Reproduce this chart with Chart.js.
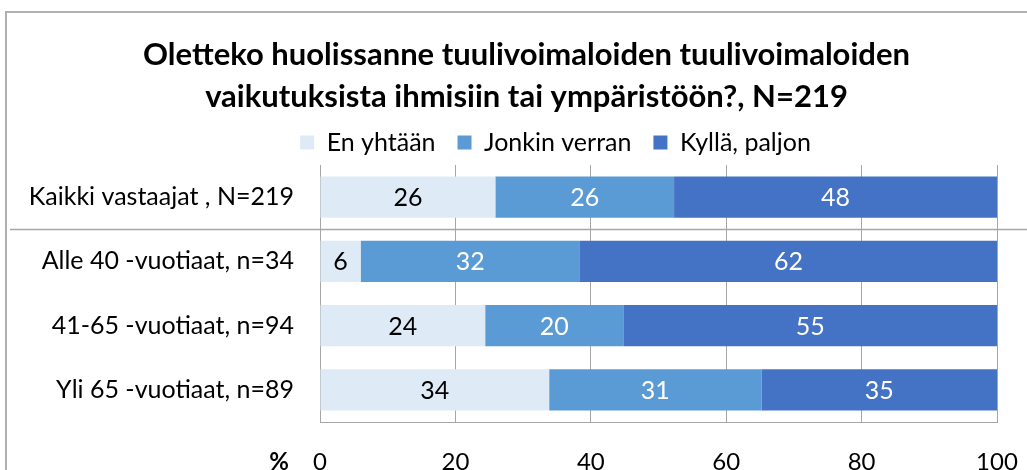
<!DOCTYPE html>
<html>
<head>
<meta charset="utf-8">
<script src="https://cdn.jsdelivr.net/npm/chart.js@4/dist/chart.umd.min.js"></script>
<style>
  html, body { margin: 0; padding: 0; background: #fff; }
  #wrap { width: 1027px; height: 470px; position: relative; }
</style>
</head>
<body>
<div id="wrap"><canvas id="myChart"></canvas></div>
<script>
const titleLines = [
  "Oletteko huolissanne tuulivoimaloiden tuulivoimaloiden",
  "vaikutuksista ihmisiin tai ympäristöön?, N=219"
];
const categories = [
  "Kaikki vastaajat , N=219",
  "Alle 40 -vuotiaat, n=34",
  "41-65 -vuotiaat, n=94",
  "Yli 65 -vuotiaat, n=89"
];
const seriesNames = ["En yhtään", "Jonkin verran", "Kyllä, paljon"];
const enYhtaan = [25.9, 6.0, 24.4, 33.85];
const jonkinVerran = [26.4, 32.4, 20.4, 31.35];
const kyllaPaljon = [47.7, 61.6, 55.2, 34.8];
const xUnit = "%";

const FONT = "Lato";
const GRID = "#a6a6a6";
const colors = ["#DEEBF7", "#5B9BD5", "#4472C4"];
const labelColors = ["#000000", "#ffffff", "#ffffff"];

// frame, separator line, data labels and the "%" unit
const decorations = {
  id: "decorations",
  afterLayout(chart) {
    // title and legend sit right of the plot centre in the original
    chart.titleBlock.left += 28;
    chart.titleBlock.right += 28;
    chart.legend.left += 57;
    chart.legend.right += 57;
  },
  beforeDraw(chart) {
    const ctx = chart.ctx;
    ctx.save();
    ctx.strokeStyle = "#b0b0b0";
    ctx.lineWidth = 2;
    ctx.beginPath();
    ctx.moveTo(6, 470);
    ctx.lineTo(6, 12);
    ctx.lineTo(1027, 12);
    ctx.stroke();
    ctx.restore();
  },
  afterDatasetsDraw(chart) {
    const ctx = chart.ctx;
    const ys = chart.scales.y;
    const sepY = Math.round((ys.getPixelForValue(0) + ys.getPixelForValue(1)) / 2) + 0.5;
    ctx.save();
    ctx.strokeStyle = GRID;
    ctx.lineWidth = 1.5;
    ctx.beginPath();
    ctx.moveTo(10, sepY);
    ctx.lineTo(1027, sepY);
    ctx.stroke();

    ctx.font = "25px " + FONT;
    ctx.textAlign = "center";
    ctx.textBaseline = "middle";
    chart.data.datasets.forEach((ds, di) => {
      const meta = chart.getDatasetMeta(di);
      meta.data.forEach((el, i) => {
        const p = el.getProps(["x", "y", "base"], true);
        ctx.fillStyle = labelColors[di];
        ctx.fillText(String(Math.round(ds.data[i])), (p.x + p.base) / 2, p.y + 1);
      });
    });

    ctx.font = "bold 24px " + FONT;
    ctx.fillStyle = "#000";
    ctx.fillText(xUnit, 279, 462);
    ctx.restore();
  }
};

const data = {
  labels: categories,
  datasets: [
    { label: seriesNames[0], data: enYhtaan, backgroundColor: colors[0] },
    { label: seriesNames[1], data: jonkinVerran, backgroundColor: colors[1] },
    { label: seriesNames[2], data: kyllaPaljon, backgroundColor: colors[2] }
  ]
};

const config = {
  type: "bar",
  data: data,
  plugins: [decorations],
  options: {
    indexAxis: "y",
    responsive: true,
    maintainAspectRatio: false,
    animation: false,
    barPercentage: 0.64,
    categoryPercentage: 1,
    layout: { padding: { left: 0, right: 30, top: 0, bottom: 0 } },
    scales: {
      x: {
        stacked: true,
        min: 0,
        max: 100,
        ticks: {
          stepSize: 20,
          padding: 4,
          color: "#000",
          font: { family: FONT, size: 24 }
        },
        grid: { color: GRID, drawTicks: true, tickLength: 22, tickColor: "rgba(0,0,0,0)" },
        border: { color: GRID },
        afterFit(scale) { scale.height = 48; }
      },
      y: {
        stacked: true,
        ticks: {
          padding: 26,
          color: "#000",
          font: { family: FONT, size: 25 }
        },
        grid: { display: false, drawTicks: false },
        border: { display: false },
        afterFit(scale) { scale.width = 320; }
      }
    },
    plugins: {
      title: {
        display: true,
        text: titleLines,
        color: "#000",
        font: { family: FONT, size: 31, weight: "bold", lineHeight: "42px" },
        padding: { top: 34, bottom: -10 }
      },
      legend: {
        display: true,
        position: "top",
        labels: {
          boxWidth: 14,
          boxHeight: 14,
          padding: 22,
          color: "#000",
          font: { family: FONT, size: 25 }
        }
      },
      tooltip: { enabled: false }
    }
  }
};

const canvas = document.getElementById("myChart");
const myChart = new Chart(canvas.getContext("2d"), config);
</script>
</body>
</html>
